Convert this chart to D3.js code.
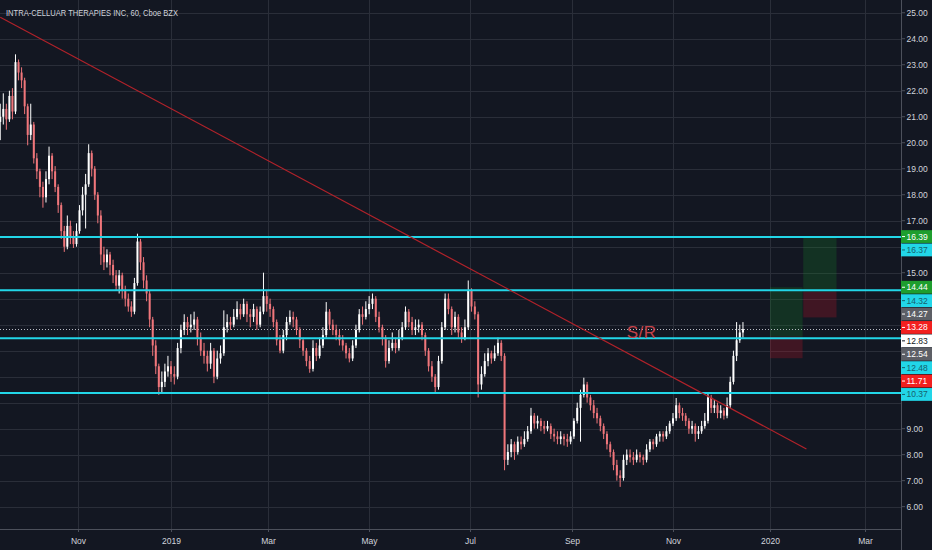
<!DOCTYPE html>
<html>
<head>
<meta charset="utf-8">
<script src="https://cdn.jsdelivr.net/npm/d3@7"></script>
<style>
  body { margin: 0; background: #131722; overflow: hidden; }
  text { font-family: "Liberation Sans", Arial, sans-serif; }
</style>
</head>
<body>
<svg id="chart"></svg>
<script>
var title = "INTRA-CELLUAR THERAPIES INC, 60, Cboe BZX";

// one candle every two calendar days, starting here
var firstBar = "2018-09-11";
var barDays = 2;
// [open, high, low, close]
var bars = [
  [20.8,21.5,20.1,21.0],[21.0,21.9,20.7,21.3],[21.3,21.5,20.5,20.9],[20.9,22.0,20.8,21.8],[21.8,22.1,20.9,21.2],
  [21.2,23.4,21.1,23.1],[23.1,23.2,22.4,22.7],[22.7,22.9,22.1,22.4],[22.4,22.5,21.1,21.4],[21.4,21.5,19.9,20.3],
  [20.3,21.5,20.1,20.7],[20.7,20.8,19.2,19.4],[19.4,19.6,18.6,18.9],[18.9,19.0,17.9,18.3],[18.3,18.5,17.5,17.9],
  [17.9,18.9,17.7,18.6],[18.6,19.85,18.4,19.5],[19.5,19.6,18.6,18.9],[18.9,19.1,18.1,18.3],[18.3,18.4,17.3,17.6],
  [17.6,17.7,16.3,16.6],[16.6,16.8,15.8,16.0],[16.0,17.2,15.9,16.8],[16.8,17.0,16.1,16.4],[16.4,16.6,15.95,16.1],
  [16.1,16.9,16.0,16.6],[16.6,17.6,16.5,17.4],[17.4,18.3,17.2,18.0],[18.0,18.8,16.7,18.4],[18.4,19.94,18.3,19.6],
  [19.6,19.7,18.7,19.0],[19.0,19.1,17.8,18.0],[18.0,18.1,16.9,17.2],[17.2,17.4,15.3,15.7],[15.7,16.0,15.1,15.4],
  [15.4,15.9,15.2,15.7],[15.7,15.8,14.9,15.3],[15.3,15.5,14.6,14.9],[14.9,15.1,14.3,14.5],[14.5,15.1,14.2,14.9],
  [14.9,15.0,14.0,14.3],[14.3,14.5,13.7,14.0],[14.0,14.2,13.5,13.7],[13.7,13.9,13.3,13.5],[13.5,14.8,13.4,14.6],
  [14.6,16.5,14.5,16.2],[16.2,16.3,15.1,15.4],[15.4,15.6,14.4,14.7],[14.7,14.9,13.9,14.2],[14.2,14.3,12.9,13.2],
  [13.2,13.3,11.8,12.2],[12.2,12.4,11.1,11.4],[11.4,11.5,10.3,10.6],[10.6,11.2,10.4,10.8],[10.8,11.5,10.6,11.2],
  [11.2,11.8,11.0,11.4],[11.4,11.6,10.8,11.1],[11.1,11.4,10.7,11.0],[11.0,12.3,10.9,12.1],[12.1,13.0,11.9,12.8],
  [12.8,13.4,12.6,13.1],[13.1,13.3,12.6,12.9],[12.9,13.4,12.7,13.0],[13.0,13.5,12.8,13.2],[13.2,13.3,12.2,12.5],
  [12.5,12.7,11.8,12.0],[12.0,12.3,11.5,11.8],[11.8,12.0,11.2,11.5],[11.5,12.3,11.3,12.0],[12.0,12.1,10.75,11.0],
  [11.0,12.0,10.9,11.7],[11.7,12.2,11.5,11.9],[11.9,13.55,11.8,12.9],[12.9,13.4,12.7,13.1],[13.1,13.3,12.8,13.0],
  [13.0,13.6,12.9,13.3],[13.3,13.9,13.2,13.6],[13.6,13.8,13.2,13.4],[13.4,14.0,13.3,13.8],[13.8,13.9,13.1,13.4],
  [13.4,13.6,12.9,13.3],[13.3,13.8,13.1,13.6],[13.6,13.7,12.8,13.0],[13.0,13.7,12.9,13.5],[13.5,15.0,13.4,14.1],
  [14.1,14.3,13.5,13.8],[13.8,14.0,13.3,13.6],[13.6,13.7,12.9,13.1],[13.1,13.2,12.2,12.4],[12.4,12.6,11.9,12.0],
  [12.0,12.8,11.9,12.6],[12.6,13.3,12.4,13.1],[13.1,13.55,13.0,13.3],[13.3,13.5,12.9,13.2],[13.2,13.3,12.6,12.8],
  [12.8,12.9,12.1,12.4],[12.4,12.5,11.8,12.0],[12.0,12.1,11.4,11.6],[11.6,11.8,11.15,11.3],[11.3,12.4,11.2,12.1],
  [12.1,12.3,11.6,11.8],[11.8,12.5,11.7,12.2],[12.2,12.9,12.1,12.6],[12.6,13.87,12.5,13.5],[13.5,13.6,12.8,13.0],
  [13.0,13.2,12.6,12.8],[12.8,13.0,12.4,12.6],[12.6,12.8,12.2,12.4],[12.4,12.6,12.0,12.2],[12.2,12.3,11.7,11.9],
  [11.9,12.1,11.55,11.7],[11.7,12.4,11.6,12.2],[12.2,13.0,12.1,12.8],[12.8,13.6,12.7,13.4],[13.4,13.7,13.0,13.3],
  [13.3,13.9,13.2,13.6],[13.6,14.1,13.4,13.8],[13.8,14.2,13.6,14.0],[14.0,14.1,13.1,13.3],[13.3,13.5,12.7,12.9],
  [12.9,13.0,12.2,12.5],[12.5,12.6,11.35,11.6],[11.6,12.4,11.5,12.1],[12.1,12.7,12.0,12.3],[12.3,12.5,11.9,12.1],
  [12.1,12.8,12.0,12.5],[12.5,13.1,12.4,12.9],[12.9,13.7,12.8,13.5],[13.5,13.6,12.9,13.1],[13.1,13.3,12.6,12.8],
  [12.8,13.2,12.6,12.9],[12.9,13.2,12.7,13.0],[13.0,13.1,12.4,12.6],[12.6,12.7,11.8,12.0],[12.0,12.1,11.2,11.4],
  [11.4,11.6,10.8,11.0],[11.0,11.1,10.4,10.6],[10.6,11.8,10.5,11.6],[11.6,13.1,11.5,12.9],[12.9,14.2,12.8,14.0],
  [14.0,14.2,13.4,13.6],[13.6,13.7,12.6,12.9],[12.9,13.5,12.7,13.3],[13.3,13.4,12.5,12.7],[12.7,12.9,12.3,12.5],
  [12.5,13.2,12.4,12.9],[12.9,14.7,12.8,14.3],[14.3,14.4,13.5,13.7],[13.7,13.9,13.2,13.4],[13.4,13.5,10.2,10.7],
  [10.7,11.4,10.5,11.1],[11.1,11.9,11.0,11.6],[11.6,12.1,11.4,11.9],[11.9,12.0,11.5,11.7],[11.7,12.2,11.6,11.9],
  [11.9,12.5,11.8,12.3],[12.3,12.4,11.6,11.8],[11.8,11.9,7.4,7.8],[7.8,8.4,7.6,8.1],[8.1,8.6,7.9,8.4],
  [8.4,8.5,7.8,8.1],[8.1,8.7,8.0,8.5],[8.5,8.7,8.2,8.4],[8.4,8.9,8.3,8.6],[8.6,9.1,8.5,8.9],
  [8.9,9.8,8.8,9.5],[9.5,9.6,9.0,9.2],[9.2,9.5,9.0,9.3],[9.3,9.4,8.9,9.1],[9.1,9.3,8.8,9.0],
  [9.0,9.3,8.9,9.1],[9.1,9.2,8.6,8.8],[8.8,9.0,8.5,8.7],[8.7,8.9,8.4,8.6],[8.6,8.9,8.4,8.7],
  [8.7,8.8,8.35,8.6],[8.6,8.8,8.3,8.5],[8.5,8.9,8.4,8.7],[8.7,9.4,8.6,9.3],[9.3,10.0,9.2,9.8],
  [9.8,10.5,8.5,10.3],[10.3,10.96,10.2,10.7],[10.7,10.8,10.0,10.2],[10.2,10.3,9.7,9.9],[9.9,10.1,9.4,9.6],
  [9.6,9.8,9.2,9.4],[9.4,9.5,8.9,9.1],[9.1,9.2,8.6,8.8],[8.8,8.9,8.2,8.4],[8.4,8.5,7.9,8.1],
  [8.1,8.2,7.4,7.6],[7.6,7.8,7.0,7.2],[7.2,7.4,6.76,7.1],[7.1,8.0,7.0,7.8],[7.8,8.2,7.6,8.0],
  [8.0,8.2,7.7,7.9],[7.9,8.1,7.6,7.8],[7.8,8.2,7.7,8.0],[8.0,8.1,7.7,7.9],[7.9,8.0,7.6,7.8],
  [7.8,8.4,7.7,8.2],[8.2,8.6,8.1,8.5],[8.5,8.6,8.2,8.4],[8.4,8.8,8.3,8.7],[8.7,8.9,8.5,8.8],
  [8.8,8.9,8.5,8.7],[8.7,9.1,8.6,8.9],[8.9,9.3,8.8,9.2],[9.2,9.6,9.1,9.4],[9.4,10.18,9.3,9.9],
  [9.9,10.0,9.4,9.6],[9.6,9.8,9.3,9.5],[9.5,9.6,9.1,9.3],[9.3,9.4,8.8,9.0],[9.0,9.3,8.8,9.1],
  [9.1,9.2,8.5,8.8],[8.8,9.1,8.6,8.9],[8.9,9.3,8.8,9.1],[9.1,9.6,9.0,9.3],[9.3,10.41,9.2,10.2],
  [10.2,10.3,9.6,9.8],[9.8,10.1,9.6,9.9],[9.9,10.0,9.4,9.6],[9.6,9.9,9.4,9.7],[9.7,9.8,9.35,9.5],
  [9.5,10.2,9.4,9.9],[9.9,11.0,9.8,10.8],[10.8,12.0,10.7,11.8],[11.8,13.1,11.6,12.4],[12.4,13.0,12.3,12.7],
  [12.7,13.1,12.5,12.83]
];

var monthDates = ["2018-11-01","2019-01-01","2019-03-01","2019-05-01","2019-07-01","2019-09-01","2019-11-01","2020-01-01","2020-03-01"];
var monthLabels = ["Nov","2019","Mar","May","Jul","Sep","Nov","2020","Mar"];
var priceTicks = [6,7,8,9,10,11,12,13,14,15,16,17,18,19,20,21,22,23,24,25];

// horizontal support / resistance lines
var levels = [16.37, 14.32, 12.48, 10.37];
var lastPrice = 12.83;

// down-sloping trend line
var trendDates = ["2018-09-11", "2020-01-24"];
var trendPrices = [24.83, 8.22];

// two long-position tools
var posStart = ["2020-01-01", "2020-01-22"];
var posEnd = ["2020-01-21T14:00", "2020-02-12"];
var posTarget = [14.44, 16.39];
var posEntry = [12.54, 14.27];
var posStop = [11.71, 13.28];

var noteText = "S/R";
var noteDate = "2019-10-04";
var notePrice = 12.5;

var W = 932, H = 550, plotW = 901, plotH = 529;
var bg = "#131722", grid = "#2a2e39", axisLine = "#4c505b", txt = "#d1d4dc";
var upColor = "#ffffff", downColor = "#f0767b";
var cyan = "#22d6e8", green = "#1e9e2e", red = "#f2201f", gray = "#5d5f66";

var parse = d3.isoParse;
var svg = d3.select("#chart").attr("width", W).attr("height", H);
svg.append("rect").attr("width", W).attr("height", H).attr("fill", bg);

// TradingView spaces bars rather than days, so the time axis is piecewise
var x = d3.scaleTime()
    .domain(["2018-11-01", "2019-01-01", "2019-11-01", "2020-01-01", "2020-03-01"].map(parse))
    .range([78, 171, 673, 770, 865]);
var y = d3.scaleLinear().domain([5.14, 25.49]).range([plotH, 0]);

svg.append("clipPath").attr("id", "plot")
  .append("rect").attr("width", plotW).attr("height", plotH);
var g = svg.append("g").attr("clip-path", "url(#plot)");

// grid
g.selectAll(".hgrid").data(priceTicks).join("line")
    .attr("x1", 0).attr("x2", plotW)
    .attr("y1", function(d){ return Math.round(y(d)) + 0.5; })
    .attr("y2", function(d){ return Math.round(y(d)) + 0.5; })
    .attr("stroke", grid);
g.selectAll(".vgrid").data(monthDates).join("line")
    .attr("x1", function(d){ return Math.round(x(parse(d))) + 0.5; })
    .attr("x2", function(d){ return Math.round(x(parse(d))) + 0.5; })
    .attr("y1", 0).attr("y2", plotH)
    .attr("stroke", grid);

// position boxes
posStart.forEach(function(s, i) {
    var x0 = x(parse(s)), x1 = x(parse(posEnd[i]));
    g.append("rect").attr("x", x0).attr("width", x1 - x0)
        .attr("y", y(posTarget[i])).attr("height", y(posEntry[i]) - y(posTarget[i]))
        .attr("fill", "rgba(20,160,40,0.2)");
    g.append("rect").attr("x", x0).attr("width", x1 - x0)
        .attr("y", y(posEntry[i])).attr("height", y(posStop[i]) - y(posEntry[i]))
        .attr("fill", "rgba(200,20,40,0.25)");
});

// last price dotted line
g.append("line").attr("x1", 0).attr("x2", plotW)
    .attr("y1", Math.round(y(lastPrice)) + 0.5).attr("y2", Math.round(y(lastPrice)) + 0.5)
    .attr("stroke", "#b8bbc4").attr("stroke-dasharray", "1,2");

// candles
var bx = function(d, i){ return x(d3.timeDay.offset(parse(firstBar), i * barDays)); };
var col = function(d){ return d[3] >= d[0] ? upColor : downColor; };
g.selectAll(".wick").data(bars).join("line")
    .attr("x1", function(d, i){ return bx(d, i); })
    .attr("x2", function(d, i){ return bx(d, i); })
    .attr("y1", function(d){ return y(d[1]); })
    .attr("y2", function(d){ return y(d[2]); })
    .attr("stroke", col).attr("stroke-width", 1);
g.selectAll(".body").data(bars).join("rect")
    .attr("x", function(d, i){ return bx(d, i) - 1; })
    .attr("width", 2)
    .attr("y", function(d){ return y(Math.max(d[0], d[3])); })
    .attr("height", function(d){ return Math.max(1, Math.abs(y(d[0]) - y(d[3]))); })
    .attr("fill", col);

// levels
g.selectAll(".level").data(levels).join("line")
    .attr("x1", 0).attr("x2", plotW)
    .attr("y1", function(d){ return y(d); }).attr("y2", function(d){ return y(d); })
    .attr("stroke", cyan).attr("stroke-width", 2);

// trend line
g.append("line")
    .attr("x1", x(parse(trendDates[0]))).attr("y1", y(trendPrices[0]))
    .attr("x2", x(parse(trendDates[1]))).attr("y2", y(trendPrices[1]))
    .attr("stroke", "#b2222a").attr("stroke-width", 1.2);

// note
g.append("text").attr("x", x(parse(noteDate))).attr("y", y(notePrice))
    .attr("fill", "#c4434a").attr("font-size", 17).attr("letter-spacing", 0.5).text(noteText);

// title
svg.append("text").attr("x", 6).attr("y", 16)
    .attr("fill", txt).attr("font-size", 8.6)
    .attr("textLength", 172).attr("lengthAdjust", "spacingAndGlyphs")
    .text(title);

// axis borders
svg.append("line").attr("x1", plotW + 0.5).attr("x2", plotW + 0.5).attr("y1", 0).attr("y2", H)
    .attr("stroke", axisLine);
svg.append("line").attr("x1", 0).attr("x2", plotW).attr("y1", plotH + 0.5).attr("y2", plotH + 0.5)
    .attr("stroke", axisLine);

// time axis
var tx = svg.append("g");
monthDates.forEach(function(d, i) {
    var px = Math.round(x(parse(d))) + 0.5;
    tx.append("line").attr("x1", px).attr("x2", px).attr("y1", plotH).attr("y2", plotH + 3)
        .attr("stroke", axisLine);
    tx.append("text").attr("x", px).attr("y", 544).attr("text-anchor", "middle")
        .attr("fill", txt).attr("font-size", 8.5).text(monthLabels[i]);
});

// coloured price labels, stacked downward so they do not overlap
var labels = [];
levels.forEach(function(p){ labels.push({p: p, bg: cyan, fg: "#16606c"}); });
posTarget.forEach(function(p){ labels.push({p: p, bg: green, fg: "#ffffff"}); });
posEntry.forEach(function(p){ labels.push({p: p, bg: gray, fg: "#ffffff"}); });
posStop.forEach(function(p){ labels.push({p: p, bg: red, fg: "#ffffff"}); });
labels.push({p: lastPrice, bg: "#ffffff", fg: "#131722"});
labels.sort(function(a, b){ return b.p - a.p; });
var prev = -100, boxH = 13.4;
labels.forEach(function(l) {
    l.y = Math.max(y(l.p), prev + boxH);
    prev = l.y;
});

// plain price ticks, skipped where a coloured label covers them
var py = svg.append("g");
priceTicks.forEach(function(p) {
    var yy = y(p);
    var covered = labels.some(function(l){ return Math.abs(l.y - yy) < boxH - 1; });
    if (covered) return;
    py.append("line").attr("x1", plotW + 1).attr("x2", plotW + 4).attr("y1", yy).attr("y2", yy)
        .attr("stroke", axisLine);
    py.append("text").attr("x", 906.5).attr("y", yy).attr("dy", "0.35em")
        .attr("fill", txt).attr("font-size", 8.5).text(p.toFixed(2));
});

var lb = py.selectAll(".plabel").data(labels).join("g")
    .attr("transform", function(d){ return "translate(0," + d.y + ")"; });
lb.append("rect").attr("x", plotW).attr("y", -boxH / 2 + 0.3).attr("width", W - plotW).attr("height", boxH - 0.6)
    .attr("fill", function(d){ return d.bg; });
lb.append("line").attr("x1", plotW + 1).attr("x2", plotW + 4).attr("y1", 0).attr("y2", 0)
    .attr("stroke", function(d){ return d.fg; });
lb.append("text").attr("x", 906.5).attr("dy", "0.35em")
    .attr("fill", function(d){ return d.fg; }).attr("font-size", 8.5)
    .text(function(d){ return d.p.toFixed(2); });
</script>
</body>
</html>
